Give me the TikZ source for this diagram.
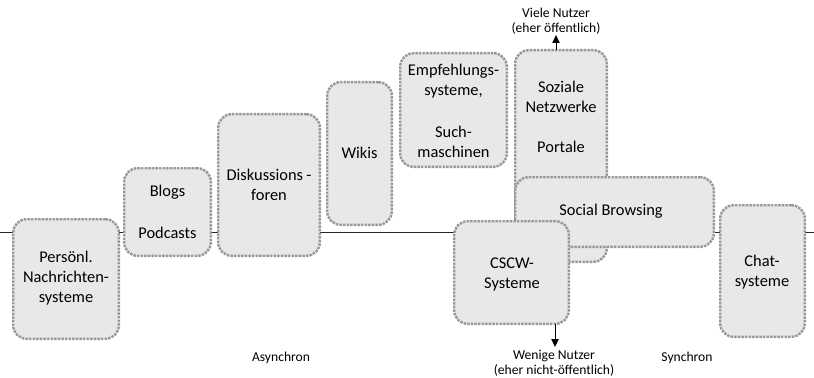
\documentclass[tikz,border=0pt]{standalone}
\usepackage{fontspec}
\setmainfont{Carlito}
\usetikzlibrary{arrows.meta}
\tikzset{
  box/.style={draw=black!40, fill=black!9, line width=1.8pt,
    dash pattern=on 1.9pt off 0.8pt, rounded corners=10pt,
    inner sep=0pt, outer sep=0pt},
  sz/.style 2 args={minimum width=#1*0.75pt-1.8pt, minimum height=#2*0.75pt-1.8pt},
  lbl/.style={font=\fontsize{12.3pt}{15pt}\selectfont, inner sep=0pt, align=center},
  small/.style={font=\fontsize{10.2pt}{11.6pt}\selectfont, inner sep=0pt, align=center},
  arr/.style={-{Triangle[length=6pt,width=5.5pt]}, line width=0.7pt, black}
}
\begin{document}
\begin{tikzpicture}[x=0.75pt, y=-0.75pt]
\useasboundingbox (0,0) rectangle (814,378);
% axis
\coordinate (L) at (0,232.5);
\coordinate (R) at (814,232.5);
\draw[line width=0.75pt, black!85] (L) -- (R);
% boxes
\node[box, sz={108}{122}] (pers) at (66,279) {};
\node[lbl] (perst) at (66,278) {Persönl.\\Nachrichten-\\systeme};
\node[box, sz={89}{90}] (blogs) at (167.5,212) {};
\node[lbl] (blogst) at (167.5,192) {Blogs};
\node[lbl] (podt) at (167.5,233) {Podcasts};
\node[box, sz={104}{144}] (disk) at (269,185) {};
\node[lbl] (diskt) at (269,184.5) {Diskussions\hspace{0.2em}-\\foren};
\node[box, sz={67}{145}] (wikis) at (359.5,153.5) {};
\node[lbl] (wikist) at (359.5,153) {Wikis};
\node[box, sz={109}{116}] (empf) at (453.5,110) {};
\node[lbl] (empft) at (453.5,81) {Empfehlungs-\\systeme,};
\node[lbl] (sucht) at (453.5,142) {Such-\\maschinen};
\node[box, sz={94}{214}] (soz) at (561,156) {};
\node[lbl] (sozt) at (561,97) {Soziale\\Netzwerke};
\node[lbl] (portt) at (561,147) {Portale};
\node[box, sz={201}{72}] (socbr) at (614.5,212) {};
\node[lbl] (socbrt) at (611,211) {Social Browsing};
\node[box, sz={117}{105}] (cscw) at (511.5,272.5) {};
\node[lbl] (cscwt) at (512,274) {CSCW-\\Systeme};
\node[box, sz={87}{134}] (chat) at (762.5,271) {};
\node[lbl] (chatt) at (762,272) {Chat-\\systeme};
% arrows and labels
\coordinate (up) at (556,35);
\coordinate (down) at (555,347);
\draw[arr] (up |- soz.north) -- (up);
\draw[arr] (down |- cscw.south) -- (down);
\node[small] (viele) at (556,21) {Viele Nutzer\\(eher öffentlich)};
\node[small] (wenige) at (554,363.5) {Wenige Nutzer\\(eher nicht-öffentlich)};
\node[small] (async) at (281,358) {Asynchron};
\node[small] (sync) at (687,358) {Synchron};
\end{tikzpicture}
\end{document}
